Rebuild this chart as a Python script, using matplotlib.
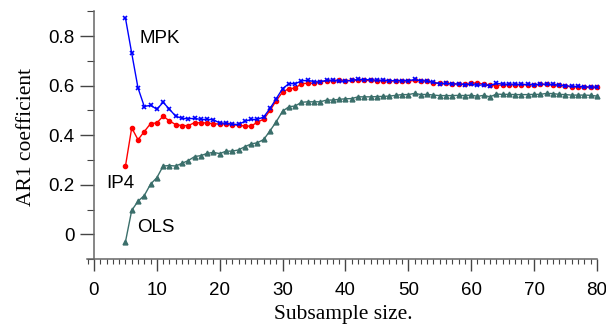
import matplotlib.pyplot as plt
from matplotlib.ticker import MultipleLocator

# Subsample sizes
sizes = list(range(5, 81))

# AR1 coefficient estimates
mpk = [0.873, 0.731, 0.591, 0.516, 0.521, 0.505, 0.533, 0.505, 0.477, 0.468,
       0.467, 0.468, 0.464, 0.464, 0.463, 0.449, 0.449, 0.444, 0.444, 0.456,
       0.464, 0.464, 0.474, 0.508, 0.548, 0.588, 0.608, 0.608, 0.619, 0.622,
       0.616, 0.615, 0.622, 0.622, 0.618, 0.618, 0.622, 0.625, 0.624, 0.624,
       0.622, 0.622, 0.620, 0.620, 0.620, 0.620, 0.625, 0.620, 0.619, 0.613,
       0.608, 0.609, 0.607, 0.607, 0.604, 0.606, 0.601, 0.604, 0.600, 0.610,
       0.606, 0.606, 0.606, 0.605, 0.605, 0.604, 0.606, 0.606, 0.605, 0.602,
       0.600, 0.597, 0.597, 0.595, 0.595, 0.594]

ip4 = [0.275, 0.430, 0.382, 0.415, 0.447, 0.450, 0.477, 0.458, 0.443, 0.439,
       0.439, 0.451, 0.450, 0.450, 0.446, 0.446, 0.446, 0.442, 0.441, 0.437,
       0.437, 0.453, 0.465, 0.500, 0.540, 0.574, 0.588, 0.590, 0.608, 0.610,
       0.610, 0.615, 0.620, 0.620, 0.622, 0.620, 0.622, 0.622, 0.622, 0.621,
       0.620, 0.620, 0.619, 0.619, 0.619, 0.619, 0.621, 0.619, 0.618, 0.612,
       0.609, 0.609, 0.607, 0.607, 0.605, 0.609, 0.612, 0.605, 0.602, 0.600,
       0.604, 0.604, 0.604, 0.604, 0.604, 0.603, 0.605, 0.605, 0.603, 0.601,
       0.598, 0.596, 0.596, 0.594, 0.594, 0.593]

ols = [-0.030, 0.097, 0.134, 0.157, 0.203, 0.229, 0.276, 0.278, 0.276, 0.287,
       0.298, 0.314, 0.318, 0.327, 0.331, 0.326, 0.336, 0.336, 0.341, 0.354,
       0.365, 0.370, 0.383, 0.418, 0.455, 0.497, 0.515, 0.518, 0.533, 0.535,
       0.535, 0.535, 0.542, 0.542, 0.545, 0.547, 0.548, 0.555, 0.555, 0.555,
       0.556, 0.557, 0.558, 0.561, 0.564, 0.564, 0.569, 0.564, 0.565, 0.562,
       0.560, 0.560, 0.560, 0.561, 0.560, 0.562, 0.557, 0.561, 0.555, 0.566,
       0.565, 0.565, 0.564, 0.564, 0.564, 0.565, 0.565, 0.569, 0.568, 0.565,
       0.564, 0.562, 0.562, 0.562, 0.561, 0.558]

fig = plt.figure(figsize=(6.06, 3.24), dpi=100)
ax = fig.add_axes([0.1437, 0.1883, 0.8465, 0.7769])

ax.plot(sizes, ols, color='#3b6f6b', marker='^', markersize=3.5, linewidth=1)
ax.plot(sizes, ip4, color='red', marker='o', markersize=3, linewidth=1)
ax.plot(sizes, mpk, color='blue', marker='x', markersize=3.5, markeredgewidth=1.2, linewidth=1)

ax.text(7.3, 0.79, 'MPK', fontsize=13.5, family='Liberation Sans', va='center')
ax.text(2.0, 0.205, 'IP4', fontsize=13.5, family='Liberation Sans', va='center')
ax.text(6.8, 0.03, 'OLS', fontsize=13.5, family='Liberation Sans', va='center')

ax.set_xlim(-1.1, 80.5)
ax.set_ylim(-0.115, 0.9)

# axes drawn as crossing lines
for s in ['top', 'right']:
    ax.spines[s].set_visible(False)
ax.spines['left'].set_position(('data', 0))
ax.spines['bottom'].set_position(('data', -0.1))
ax.spines['left'].set_bounds(-0.1, 0.9)
ax.spines['bottom'].set_bounds(-1.1, 80)
for s in ['left', 'bottom']:
    ax.spines[s].set_color('#666666')
    ax.spines[s].set_linewidth(1.1)

ax.set_xticks([0, 10, 20, 30, 40, 50, 60, 70, 80])
ax.xaxis.set_minor_locator(MultipleLocator(1))
ax.set_yticks([0, 0.2, 0.4, 0.6, 0.8])
ax.set_yticklabels(['0', '0.2', '0.4', '0.6', '0.8'])
ax.yaxis.set_minor_locator(MultipleLocator(0.1))
ax.tick_params(axis='x', which='major', direction='out', length=8.5, width=1, color='#444444', pad=8)
ax.tick_params(axis='x', which='minor', direction='out', length=3.8, width=0.8, color='#444444')
ax.tick_params(axis='y', which='major', direction='out', length=10, width=1, color='#444444', pad=4)
ax.tick_params(axis='y', which='minor', direction='out', length=5, width=0.8, color='#444444')
for lab in ax.get_xticklabels() + ax.get_yticklabels():
    lab.set_family('Liberation Sans')
    lab.set_fontsize(13.5)

ax.set_xlabel('Subsample size.', family='Liberation Serif', fontsize=15.5, labelpad=4)
ax.set_ylabel('AR1 coefficient', family='Liberation Serif', fontsize=15.5, labelpad=9)

plt.savefig('out.png', dpi=100)
